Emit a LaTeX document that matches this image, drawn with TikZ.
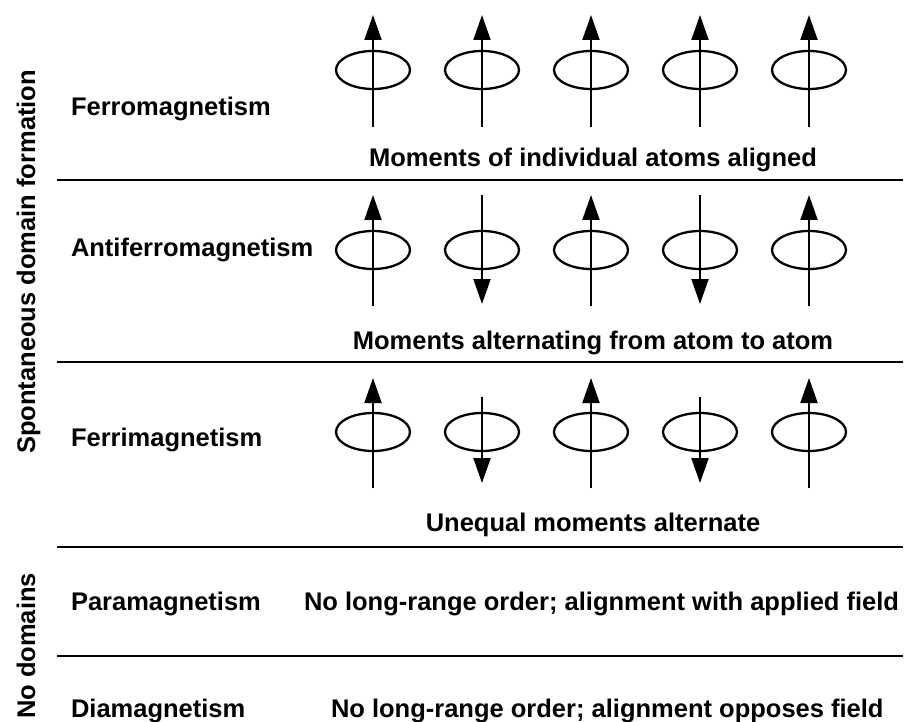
\documentclass[tikz,border=0pt]{standalone}
\usepackage{fontspec}
\setmainfont{Liberation Sans}
\usetikzlibrary{arrows.meta,shapes.geometric}

\begin{document}
\begin{tikzpicture}[x=1pt,y=-1pt,
  every node/.style={inner sep=0pt,outer sep=0pt,font=\fontsize{25.5}{30}\selectfont\bfseries},
  rowlabel/.style={anchor=base west},
  caption/.style={anchor=base},
  sidelabel/.style={anchor=base,rotate=90},
  atom/.style={draw,ellipse,line width=2.3pt,minimum width=74pt,minimum height=38pt},
  spin/.style={line width=2pt,-{Triangle[length=25pt,width=17pt]}},
  rule/.style={line width=2.8pt}]
\useasboundingbox (0,0) rectangle (913,722);

% side labels
\node[sidelabel] (spont) at (35,262) {Spontaneous domain formation};
\node[sidelabel] (nodom) at (35,646) {No domains};

% row labels
\node[rowlabel] (ferro) at (71,116) {Ferromagnetism};
\node[rowlabel] (antiferro) at (71,257) {Antiferromagnetism};
\node[rowlabel] (ferri) at (71,446) {Ferrimagnetism};
\node[rowlabel] (para) at (71,610) {Paramagnetism};
\node[rowlabel] (dia) at (71,717) {Diamagnetism};

% captions
\node[caption] (capferro) at (593,167) {Moments of individual atoms aligned};
\node[caption] (capanti) at (593,349) {Moments alternating from atom to atom};
\node[caption] (capferri) at (593,531) {Unequal moments alternate};
\node[rowlabel] (descpara) at (304,610) {No long-range order; alignment with applied field};
\node[rowlabel] (descdia) at (331,717) {No long-range order; alignment opposes field};

% separating rules
\foreach \k/\y in {1/180,2/362,3/547,4/656} {
  \coordinate (r\k l) at (57,\y);
  \coordinate (r\k r) at (903,\y);
  \draw[rule] (r\k l) -- (r\k r);
}

% ferromagnetic row: all moments up
\foreach \i/\x in {1/373,2/482,3/591,4/700,5/809} {
  \node[atom] (fe\i) at (\x,70) {};
  \coordinate (fe\i s) at (\x,127);
  \coordinate (fe\i e) at (\x,15);
  \draw[spin] (fe\i s) -- (fe\i e);
}

% antiferromagnetic row: equal moments alternating
\foreach \i/\x in {1/373,2/482,3/591,4/700,5/809} {
  \node[atom] (af\i) at (\x,250) {};
}
\foreach \i/\x in {1/373,3/591,5/809} {
  \coordinate (af\i s) at (\x,306);
  \coordinate (af\i e) at (\x,195);
  \draw[spin] (af\i s) -- (af\i e);
}
\foreach \i/\x in {2/482,4/700} {
  \coordinate (af\i s) at (\x,195);
  \coordinate (af\i e) at (\x,304);
  \draw[spin] (af\i s) -- (af\i e);
}

% ferrimagnetic row: unequal moments alternating
\foreach \i/\x in {1/373,2/482,3/591,4/700,5/809} {
  \node[atom] (fi\i) at (\x,432) {};
}
\foreach \i/\x in {1/373,3/591,5/809} {
  \coordinate (fi\i s) at (\x,488);
  \coordinate (fi\i e) at (\x,378);
  \draw[spin] (fi\i s) -- (fi\i e);
}
\foreach \i/\x in {2/482,4/700} {
  \coordinate (fi\i s) at (\x,397);
  \coordinate (fi\i e) at (\x,483);
  \draw[spin] (fi\i s) -- (fi\i e);
}
\end{tikzpicture}
\end{document}
